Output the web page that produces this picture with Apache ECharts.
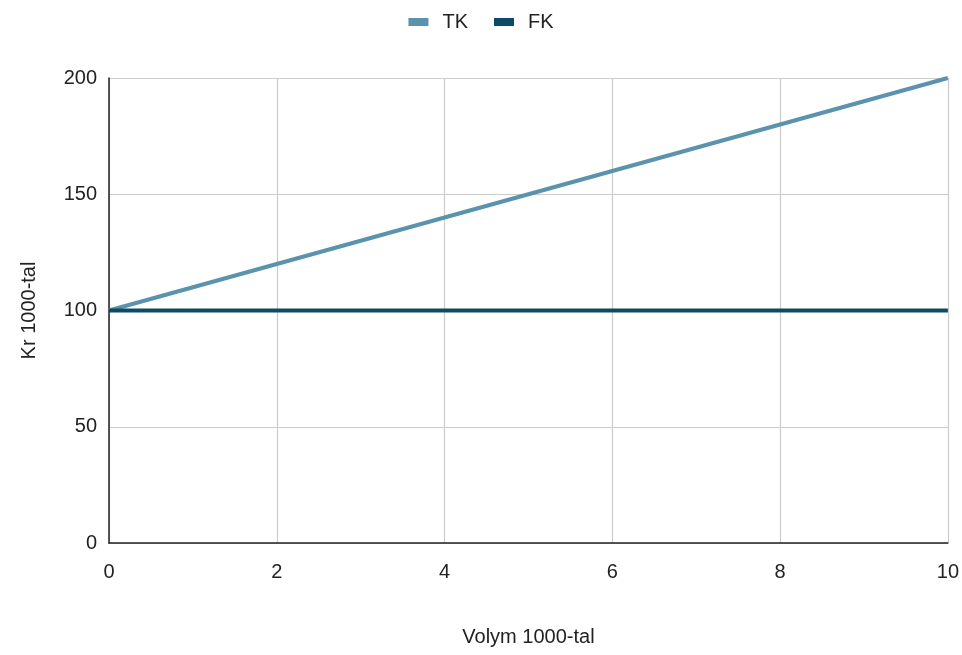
<!DOCTYPE html>
<html><head><meta charset="utf-8">
<script src="https://cdn.jsdelivr.net/npm/echarts@6/dist/echarts.min.js"></script>
<style>html,body{margin:0;padding:0;background:#fff}#c{width:962px;height:655px}</style>
</head><body><div id="c"></div>
<script>
const volym = [0, 2, 4, 6, 8, 10];
const tk = [100, 120, 140, 160, 180, 200];
const fk = [100, 100, 100, 100, 100, 100];
const seriesNames = ['TK', 'FK'];

const font = '"Liberation Sans", Arial, sans-serif';
const chart = echarts.init(document.getElementById('c'));
chart.setOption({
  animation: false,
  textStyle: { fontFamily: font },
  legend: {
    top: 7, left: 'center', itemWidth: 20, itemHeight: 8, itemGap: 26,
    icon: 'rect',
    textStyle: { fontSize: 20, color: '#222', fontFamily: font, padding: [0, 0, 0, 9] },
    data: seriesNames
  },
  grid: { left: 109, right: 13, top: 78, bottom: 112 },
  xAxis: {
    type: 'value', min: 0, max: 10, interval: 2,
    name: 'Volym 1000-tal', nameLocation: 'middle', nameGap: 84,
    nameTextStyle: { fontSize: 20, color: '#222', fontFamily: font },
    axisLine: { show: true, lineStyle: { color: '#222', width: 1.5 } },
    axisTick: { show: false },
    axisLabel: { fontSize: 20, color: '#222', margin: 19, fontFamily: font },
    splitLine: { show: true, lineStyle: { color: '#cccccc', width: 1.2 } }
  },
  yAxis: {
    type: 'value', min: 0, max: 200, interval: 50,
    name: 'Kr 1000-tal', nameLocation: 'middle', nameGap: 70, nameRotate: 90,
    nameTextStyle: { fontSize: 20, color: '#222', fontFamily: font },
    axisLine: { show: true, lineStyle: { color: '#222', width: 1.5 } },
    axisTick: { show: false },
    axisLabel: { fontSize: 20, color: '#222', margin: 12, fontFamily: font },
    splitLine: { show: true, lineStyle: { color: '#cccccc', width: 1.2 } }
  },
  series: [
    { name: seriesNames[0], type: 'line', data: volym.map((v, i) => [v, tk[i]]),
      symbol: 'none', lineStyle: { color: '#5b93ae', width: 4 }, itemStyle: { color: '#5b93ae' } },
    { name: seriesNames[1], type: 'line', data: volym.map((v, i) => [v, fk[i]]),
      symbol: 'none', lineStyle: { color: '#0c4a65', width: 4 }, itemStyle: { color: '#0c4a65' } }
  ]
});
</script></body></html>
